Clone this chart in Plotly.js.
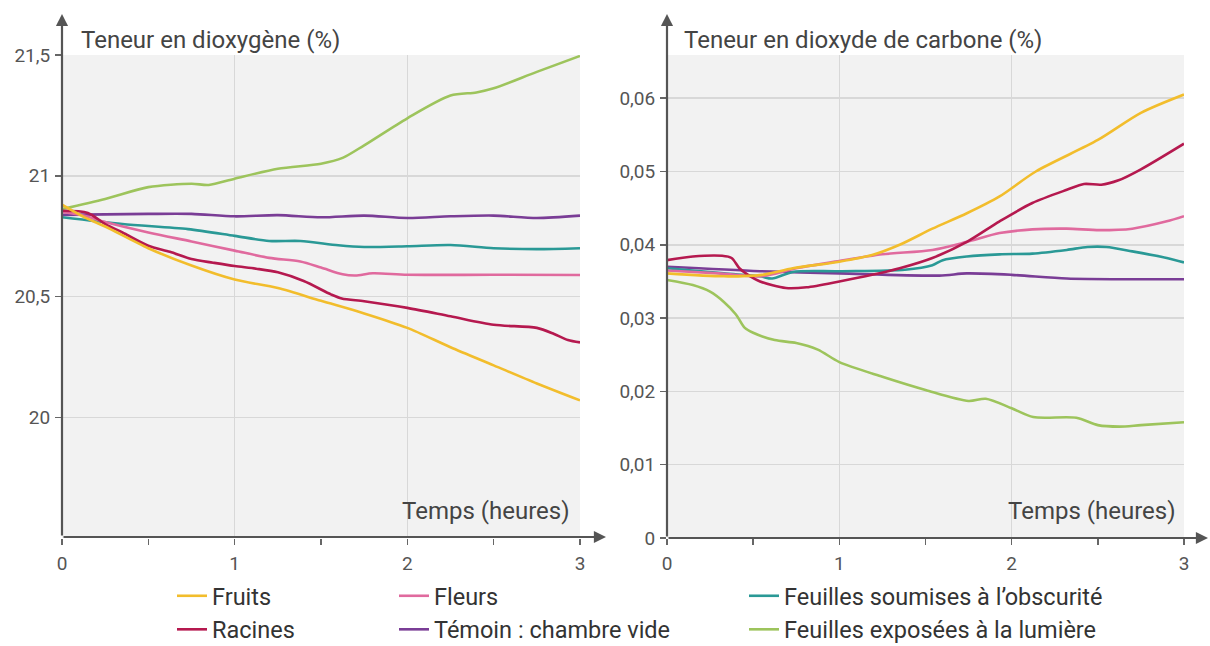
<!DOCTYPE html>
<html>
<head>
<meta charset="utf-8">
<script src="https://cdn.plot.ly/plotly-3.0.1.min.js"></script>
<style>html,body{margin:0;padding:0;background:#fff;}#chart{width:1210px;height:646px;}</style>
</head>
<body>
<div id="chart"></div>
<script>
// ---- Series names and colours ----
const seriesNames = ["Fruits", "Racines", "Fleurs", "Témoin : chambre vide", "Feuilles soumises à l’obscurité", "Feuilles exposées à la lumière"];
const seriesColors = ["#f2bd2c", "#b5194f", "#e06a9e", "#7a3d96", "#2a9996", "#9dc45c"];

// ---- Dioxygen (%) vs time (hours) ----
const fruitsO2_t = [0, 0.125, 0.25, 0.5, 0.75, 1, 1.25, 1.5, 1.75, 2, 2.25, 2.5, 2.75, 3];
const fruitsO2_v = [20.88, 20.83, 20.79, 20.70, 20.628, 20.57, 20.535, 20.482, 20.43, 20.37, 20.29, 20.215, 20.14, 20.07];

const racinesO2_t = [0, 0.15, 0.25, 0.35, 0.5, 0.625, 0.75, 0.875, 1, 1.125, 1.25, 1.4, 1.56, 1.62, 1.75, 2, 2.25, 2.5, 2.75, 2.85, 2.93, 3];
const racinesO2_v = [20.855, 20.846, 20.80, 20.765, 20.71, 20.685, 20.655, 20.64, 20.626, 20.615, 20.60, 20.564, 20.508, 20.492, 20.48, 20.453, 20.418, 20.383, 20.37, 20.345, 20.32, 20.31];

const fleursO2_t = [0, 0.125, 0.25, 0.5, 0.75, 1, 1.2, 1.38, 1.5, 1.625, 1.7, 1.8, 2, 2.5, 3];
const fleursO2_v = [20.85, 20.835, 20.808, 20.765, 20.728, 20.69, 20.66, 20.645, 20.62, 20.592, 20.587, 20.596, 20.59, 20.59, 20.589];

const temoinO2_t = [0, 0.5, 0.75, 1, 1.25, 1.5, 1.75, 2, 2.25, 2.5, 2.75, 3];
const temoinO2_v = [20.838, 20.842, 20.842, 20.832, 20.837, 20.828, 20.835, 20.825, 20.832, 20.835, 20.825, 20.835];

const obscuriteO2_t = [0, 0.35, 0.73, 1, 1.2, 1.38, 1.6, 1.75, 2, 2.25, 2.5, 2.75, 3];
const obscuriteO2_v = [20.828, 20.80, 20.779, 20.751, 20.73, 20.73, 20.712, 20.705, 20.708, 20.713, 20.70, 20.696, 20.70];

const lumiereO2_t = [0, 0.25, 0.5, 0.75, 0.85, 1, 1.25, 1.5, 1.625, 1.75, 2, 2.25, 2.4, 2.5, 2.75, 3];
const lumiereO2_v = [20.862, 20.904, 20.953, 20.967, 20.962, 20.988, 21.029, 21.05, 21.074, 21.126, 21.238, 21.332, 21.345, 21.362, 21.43, 21.496];

// ---- Carbon dioxide (%) vs time (hours) ----
const fruitsCO2_t = [0, 0.33, 0.55, 0.73, 1, 1.19, 1.35, 1.54, 1.74, 1.93, 2.14, 2.5, 2.75, 3];
const fruitsCO2_v = [0.0361, 0.0357, 0.0359, 0.0368, 0.0377, 0.0386, 0.0400, 0.0422, 0.0443, 0.0466, 0.0500, 0.0543, 0.0580, 0.0605];

const racinesCO2_t = [0, 0.15, 0.32, 0.375, 0.42, 0.47, 0.54, 0.69, 0.81, 1, 1.19, 1.35, 1.54, 1.74, 1.93, 2.12, 2.32, 2.42, 2.52, 2.62, 2.75, 3];
const racinesCO2_v = [0.0379, 0.0384, 0.0385, 0.0382, 0.0368, 0.0359, 0.0350, 0.0341, 0.0342, 0.0350, 0.0359, 0.0368, 0.0382, 0.0404, 0.0432, 0.0457, 0.0475, 0.0483, 0.0482, 0.0488, 0.0503, 0.0538];

const fleursCO2_t = [0, 0.3, 0.55, 0.75, 1, 1.25, 1.54, 1.74, 1.93, 2.12, 2.32, 2.51, 2.7, 2.9, 3];
const fleursCO2_v = [0.0365, 0.0361, 0.0357, 0.0368, 0.0378, 0.0387, 0.0393, 0.0404, 0.0416, 0.0421, 0.0422, 0.0420, 0.0422, 0.0432, 0.0439];

const temoinCO2_t = [0, 0.54, 1, 1.58, 1.74, 2, 2.32, 2.7, 3];
const temoinCO2_v = [0.0370, 0.0364, 0.0361, 0.0358, 0.0361, 0.0359, 0.0354, 0.0353, 0.0353];

const obscuriteCO2_t = [0, 0.33, 0.54, 0.61, 0.73, 1, 1.38, 1.54, 1.6, 1.74, 1.93, 2.12, 2.32, 2.44, 2.55, 2.7, 2.9, 3];
const obscuriteCO2_v = [0.0368, 0.0361, 0.0357, 0.0354, 0.0363, 0.0364, 0.0366, 0.0372, 0.0379, 0.0384, 0.0387, 0.0388, 0.0393, 0.0397, 0.0397, 0.0391, 0.0382, 0.0376];

const lumiereCO2_t = [0, 0.15, 0.25, 0.33, 0.4, 0.45, 0.5, 0.625, 0.75, 0.875, 1, 1.25, 1.5, 1.75, 1.85, 2, 2.125, 2.375, 2.5, 2.625, 2.75, 3];
const lumiereCO2_v = [0.0352, 0.0345, 0.0336, 0.0322, 0.0305, 0.0287, 0.0280, 0.0270, 0.0266, 0.0257, 0.0240, 0.0220, 0.0202, 0.0187, 0.0190, 0.0177, 0.0165, 0.0164, 0.0154, 0.0152, 0.0154, 0.0158];

// ---- Axis ticks ----
const timeTicks = [0, 1, 2, 3];
const o2TickVals = [20, 20.5, 21, 21.5];
const o2TickText = ["20", "20,5", "21", "21,5"];
const co2TickVals = [0, 0.01, 0.02, 0.03, 0.04, 0.05, 0.06];
const co2TickText = ["0", "0,01", "0,02", "0,03", "0,04", "0,05", "0,06"];

// ---- Text ----
const titleO2 = "Teneur en dioxygène (%)";
const titleCO2 = "Teneur en dioxyde de carbone (%)";
const timeLabel = "Temps (heures)";

const O2 = [[fruitsO2_t, fruitsO2_v], [racinesO2_t, racinesO2_v], [fleursO2_t, fleursO2_v], [temoinO2_t, temoinO2_v], [obscuriteO2_t, obscuriteO2_v], [lumiereO2_t, lumiereO2_v]];
const CO2 = [[fruitsCO2_t, fruitsCO2_v], [racinesCO2_t, racinesCO2_v], [fleursCO2_t, fleursCO2_v], [temoinCO2_t, temoinCO2_v], [obscuriteCO2_t, obscuriteCO2_v], [lumiereCO2_t, lumiereCO2_v]];
const legendFor = ["legend", "legend", "legend2", "legend2", "legend3", "legend3"];

const FONT = "Roboto, 'Liberation Sans', sans-serif";
const traces = [];
const drawOrder = [5, 3, 4, 2, 1, 0];
drawOrder.forEach(i => {
  traces.push({
    x: O2[i][0], y: O2[i][1], xaxis: "x", yaxis: "y", type: "scatter", mode: "lines",
    line: {color: seriesColors[i], width: 2.6, shape: "spline", smoothing: 0.8},
    name: seriesNames[i], legendgroup: "g" + i, showlegend: false, hoverinfo: "skip"
  });
  traces.push({
    x: CO2[i][0], y: CO2[i][1], xaxis: "x2", yaxis: "y2", type: "scatter", mode: "lines",
    line: {color: seriesColors[i], width: 2.6, shape: "spline", smoothing: 0.8},
    name: seriesNames[i], legendgroup: "g" + i, showlegend: false, hoverinfo: "skip"
  });
});
[0, 1, 2, 3, 4, 5].forEach(i => {
  traces.push({
    x: [null], y: [null], xaxis: "x", yaxis: "y", type: "scatter", mode: "lines",
    line: {color: seriesColors[i], width: 2.6},
    name: seriesNames[i], legendgroup: "g" + i, showlegend: true, legend: legendFor[i]
  });
});

const W = 1210, H = 646;
const px = v => v / W, py = v => 1 - v / H;

const xCommon = {
  range: [0, 3], tickvals: timeTicks, ticks: "outside", ticklen: 6, tickwidth: 1.5, tickcolor: "#666",
  ticklabelstandoff: 2,
  showgrid: true, gridcolor: "#d8d8d8", gridwidth: 1.5, zeroline: false, showline: false,
  tickfont: {family: FONT, size: 19, color: "#555"},
  minor: {dtick: 0.5, tick0: 0, ticks: "outside", ticklen: 6, tickwidth: 1.5, tickcolor: "#666", showgrid: false},
  fixedrange: true, automargin: false
};
const yCommon = {
  ticks: "outside", ticklen: 6, tickwidth: 1.5, tickcolor: "#666", ticklabelstandoff: 1,
  showgrid: true, gridcolor: "#d8d8d8", gridwidth: 1.5, zeroline: false, showline: false,
  tickfont: {family: FONT, size: 19, color: "#555"}, fixedrange: true, automargin: false,
  domain: [py(538), py(55)]
};

const legendCommon = {
  orientation: "v", xanchor: "left", yanchor: "top", y: py(574),
  font: {family: FONT, size: 23.5, color: "#333"}, bgcolor: "rgba(0,0,0,0)",
  tracegroupgap: 0, itemclick: false, itemdoubleclick: false
};

const axisColor = "#555";
const arrow = (xTip, yTip, ax, ay) => ({
  xref: "paper", yref: "paper", x: px(xTip), y: py(yTip), ax: ax, ay: ay,
  text: "", showarrow: true, arrowhead: 2, arrowsize: 1.1, arrowwidth: 2.2, arrowcolor: axisColor, standoff: 0
});
const label = (x, y, anchor, text) => ({
  xref: "paper", yref: "paper", x: px(x), y: py(y), xanchor: anchor, yanchor: "middle", showarrow: false,
  text: text, font: {family: FONT, size: 24, color: "#444"}
});

const layout = {
  width: W, height: H,
  margin: {l: 0, r: 0, t: 0, b: 0, autoexpand: false},
  paper_bgcolor: "#ffffff", plot_bgcolor: "#f2f2f2",
  font: {family: FONT, color: "#444"},
  xaxis: Object.assign({}, xCommon, {domain: [px(62), px(580)], anchor: "y"}),
  yaxis: Object.assign({}, yCommon, {range: [19.5, 21.5], tickvals: o2TickVals, ticktext: o2TickText, anchor: "x"}),
  xaxis2: Object.assign({}, xCommon, {domain: [px(667), px(1184)], anchor: "y2"}),
  yaxis2: Object.assign({}, yCommon, {range: [0, (538 - 55) / 7330], tickvals: co2TickVals, ticktext: co2TickText, anchor: "x2"}),
  legend: Object.assign({}, legendCommon, {x: px(172)}),
  legend2: Object.assign({}, legendCommon, {x: px(394)}),
  legend3: Object.assign({}, legendCommon, {x: px(744)}),
  annotations: [
    arrow(62, 14, 0, 523),
    arrow(606, 537, -544, 0),
    arrow(667, 14, 0, 524),
    arrow(1208, 538, -541, 0),
    label(79, 40, "left", titleO2),
    label(682, 40, "left", titleCO2),
    label(572, 511, "right", timeLabel),
    label(1178, 511, "right", timeLabel)
  ]
};

Plotly.newPlot("chart", traces, layout, {displayModeBar: false, staticPlot: true});
</script>
</body>
</html>
